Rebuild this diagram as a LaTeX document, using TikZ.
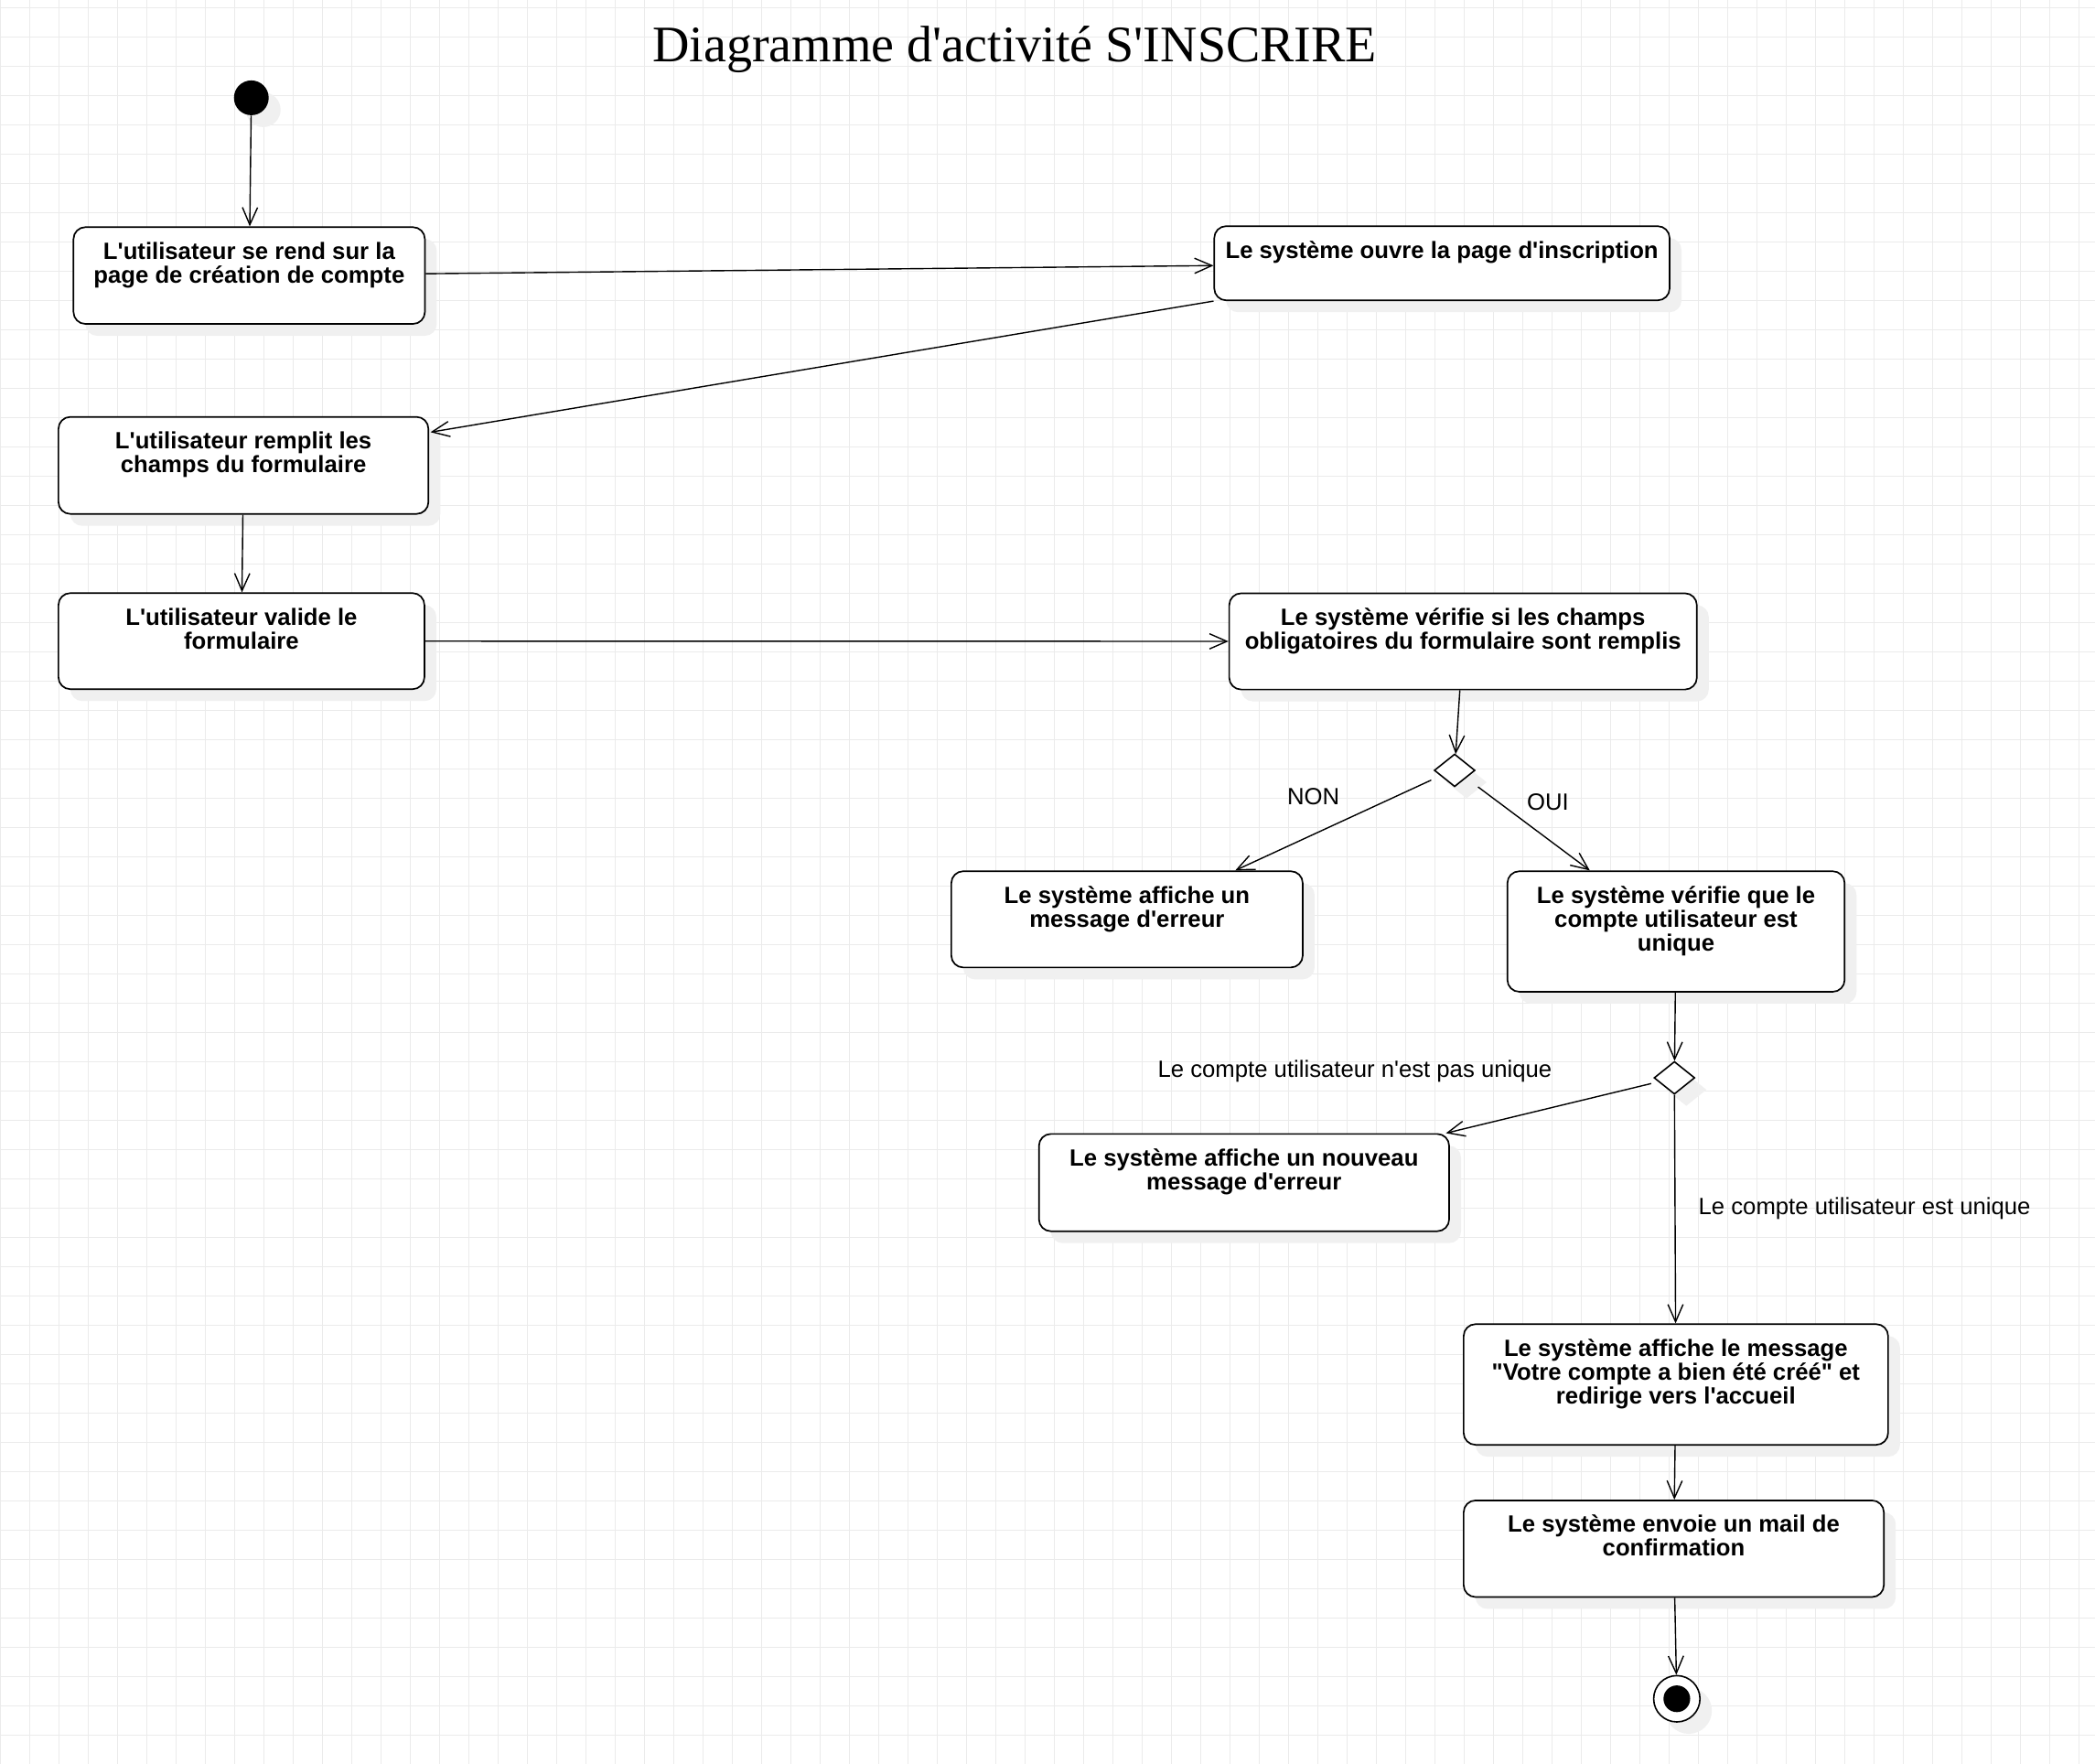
\documentclass[tikz,border=0pt]{standalone}
\usepackage{fontspec}
\setmainfont{Liberation Sans}[Ligatures=TeXOff]
\newfontfamily\titleserif{Liberation Serif}[Ligatures=TeXOff]
\usetikzlibrary{shapes.geometric,shadows,arrows.meta,calc}
\newdimen\ux \ux=0.7303pt
\newcommand\bx[3]{\parbox[c][#2\ux][t]{#1\ux}{\centering\lineskiplimit=-20pt\rule{0pt}{24\ux}#3}}
\tikzset{
  shad/.style={drop shadow={shadow xshift=6.5pt, shadow yshift=-6.5pt, fill=black!6, opacity=1}},
  actbox/.style={draw, line width=0.85pt, rounded corners=6.5pt, fill=white, inner sep=0pt, shad,
    font=\fontsize{12.85pt}{13pt}\selectfont\bfseries},
  decis/.style={diamond, draw, line width=0.8pt, fill=white, inner sep=0pt,
    minimum width=22.3pt, minimum height=17.9pt, shad},
  startnode/.style={circle, fill=black, inner sep=0pt, minimum size=19pt, shad},
  endnode/.style={circle, draw, line width=0.8pt, fill=white, inner sep=0pt, minimum size=25.3pt, shad,
    path picture={\fill[black] (path picture bounding box.center) circle (7.3pt);}},
  flow/.style={line width=0.7pt, -{Straight Barb[length=9.5pt,width=8.3pt]}},
  lbl/.style={inner sep=0pt, anchor=base, font=\fontsize{12.85pt}{13pt}\selectfont},
  gridline/.style={line width=0.5pt, black!8},
}
\begin{document}
\begin{tikzpicture}[x=0.7303pt, y=-0.7303pt]
  \useasboundingbox (0,0) rectangle (1568,1320.1);
  \fill[white] (0,0) rectangle (1568,1320.1);
  \foreach \i in {0,...,71} \draw[gridline] (\i*21.911,0) -- (\i*21.911,1320.1);
  \foreach \j in {0,...,59} \draw[gridline] (0,5.683+\j*21.911) -- (1568,5.683+\j*21.911);

  \node[inner sep=0pt, anchor=base, font=\titleserif\fontsize{28pt}{30pt}\selectfont] (title) at (759.5,46) {Diagramme d'activité S'INSCRIRE};

  \node[startnode] (init) at (188.1,73.2) {};
  \node[actbox] (A) at (186.5,206.2) {\bx{263}{72.4}{L'utilisateur se rend sur la\\page de création de compte}};
  \node[actbox] (B) at (1079.2,197) {\bx{340.8}{55.5}{Le système ouvre la page d'inscription}};
  \node[actbox] (C) at (182.2,348.3) {\bx{276.9}{72.6}{L'utilisateur remplit les\\champs du formulaire}};
  \node[actbox] (D) at (180.7,479.8) {\bx{273.9}{71.9}{L'utilisateur valide le\\formulaire}};
  \node[actbox] (E) at (1095,480) {\bx{350}{72}{Le système vérifie si les champs\\obligatoires du formulaire sont remplis}};
  \node[decis] (d1) at (1088.7,576.5) {};
  \node[actbox] (F) at (843.5,688) {\bx{263}{72}{Le système affiche un\\message d'erreur}};
  \node[actbox] (G) at (1254.4,697.1) {\bx{252.4}{90.2}{Le système vérifie que le\\compte utilisateur est\\unique}};
  \node[decis] (d2) at (1253.2,806.6) {};
  \node[actbox] (H) at (931.1,885) {\bx{307}{72.8}{Le système affiche un nouveau\\message d'erreur}};
  \node[actbox] (I) at (1254.3,1036.1) {\bx{317.7}{90.3}{Le système affiche le message\\"Votre compte a bien été créé" et\\redirige vers l'accueil}};
  \node[actbox] (J) at (1252.7,1159) {\bx{314.5}{72.3}{Le système envoie un mail de\\confirmation}};
  \node[endnode] (fin) at (1255,1271.3) {};

  \node[lbl] (lnon) at (983,602.5) {NON};
  \node[lbl] (loui) at (1158.5,606.6) {OUI};
  \node[lbl] (lpas) at (1014,806.2) {Le compte utilisateur n'est pas unique};
  \node[lbl] (luni) at (1395.5,909) {Le compte utilisateur est unique};

  \draw[flow] (init) -- (A);
  \draw[flow] (A) -- (B);
  \draw[flow] (B.south west) -- ($(C.north east)+(1,12)$);
  \draw[flow] (C) -- (D);
  \draw[flow] (D) -- (E);
  \draw[flow] (E) -- (d1);
  \draw[flow] ($(d1.west)+(-1.7,7.3)$) -- ($(F.north)+(81,0)$);
  \draw[flow] ($(d1.east)+(1.7,12.4)$) -- ($(G.north)+(-64.5,0)$);
  \draw[flow] (G) -- (d2);
  \draw[flow] ($(d2.west)+(-1.6,4.3)$) -- ($(H.north east)+(-3,0)$);
  \draw[flow] (d2) -- (I);
  \draw[flow] (I) -- (J);
  \draw[flow] (J) -- (fin);
\end{tikzpicture}
\end{document}
